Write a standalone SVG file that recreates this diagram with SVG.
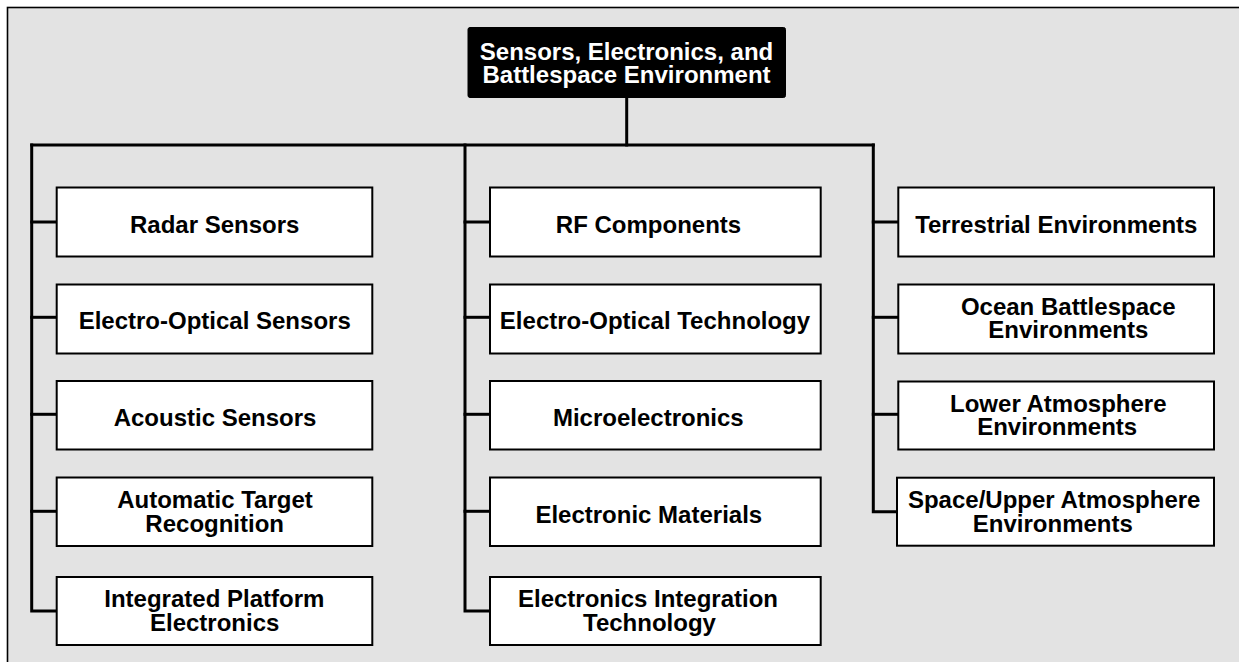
<svg xmlns="http://www.w3.org/2000/svg" width="1239" height="662" viewBox="0 0 1239 662">
<style>
.bg{fill:#e3e3e3;stroke:#000;stroke-width:1.6}
.box{fill:#fff;stroke:#000;stroke-width:2}
.title{fill:#000;stroke:#000;stroke-width:1}
.t{font-family:"Liberation Sans",Arial,Helvetica,sans-serif;font-weight:bold;font-size:24px;fill:#000;text-anchor:middle}
.tw{fill:#fff}
.ln{fill:none;stroke:#000;stroke-width:3;stroke-linejoin:miter;stroke-linecap:square}
</style>
<rect x="0" y="0" width="1239" height="662" fill="#fff"/>
<rect class="bg" x="7.5" y="7.5" width="1250" height="680"/>
<g id="connectors">
<line class="ln" x1="626.7" y1="98" x2="626.7" y2="145"/>
<line class="ln" x1="31.7" y1="145" x2="873.3" y2="145"/>
<polyline class="ln" points="31.7,145 31.7,611 56.7,611"/>
<line class="ln" x1="31.7" y1="222" x2="56.7" y2="222"/>
<line class="ln" x1="31.7" y1="317.3" x2="56.7" y2="317.3"/>
<line class="ln" x1="31.7" y1="414.3" x2="56.7" y2="414.3"/>
<line class="ln" x1="31.7" y1="511.3" x2="56.7" y2="511.3"/>
<polyline class="ln" points="465,145 465,611 490,611"/>
<line class="ln" x1="465" y1="222" x2="490" y2="222"/>
<line class="ln" x1="465" y1="317.3" x2="490" y2="317.3"/>
<line class="ln" x1="465" y1="414.3" x2="490" y2="414.3"/>
<line class="ln" x1="465" y1="511.3" x2="490" y2="511.3"/>
<polyline class="ln" points="873.3,145 873.3,511.7 898.3,511.7"/>
<line class="ln" x1="873.3" y1="222" x2="898.3" y2="222"/>
<line class="ln" x1="873.3" y1="317.3" x2="898.3" y2="317.3"/>
<line class="ln" x1="873.3" y1="414.3" x2="898.3" y2="414.3"/>
</g>
<g id="root">
<rect class="title" x="468" y="27.5" width="317.5" height="70" rx="2"/>
<text class="t tw" x="626.5" y="59.5">Sensors, Electronics, and</text>
<text class="t tw" x="626.5" y="82.5">Battlespace Environment</text>
</g>
<g id="radar"><rect class="box" x="56.7" y="187.5" width="315.6" height="69"/><text class="t" x="214.7" y="233.3">Radar Sensors</text></g>
<g id="eo-sensors"><rect class="box" x="56.7" y="284.5" width="315.6" height="69"/><text class="t" x="214.7" y="328.5">Electro-Optical Sensors</text></g>
<g id="acoustic"><rect class="box" x="56.7" y="381" width="315.6" height="68.5"/><text class="t" x="215" y="425.5">Acoustic Sensors</text></g>
<g id="atr"><rect class="box" x="56.7" y="477.5" width="315.6" height="68.5"/><text class="t" x="215" y="508.3">Automatic Target</text><text class="t" x="214.7" y="532.3">Recognition</text></g>
<g id="ipe"><rect class="box" x="56.7" y="577" width="315.6" height="68"/><text class="t" x="214.3" y="606.7">Integrated Platform</text><text class="t" x="214.7" y="630.7">Electronics</text></g>
<g id="rf"><rect class="box" x="490" y="187.5" width="330.7" height="69"/><text class="t" x="648.5" y="233.3">RF Components</text></g>
<g id="eo-tech"><rect class="box" x="490" y="284.5" width="330.7" height="69"/><text class="t" x="655" y="328.5">Electro-Optical Technology</text></g>
<g id="micro"><rect class="box" x="490" y="381" width="330.7" height="68.5"/><text class="t" x="648.3" y="425.5">Microelectronics</text></g>
<g id="materials"><rect class="box" x="490" y="477.5" width="330.7" height="68.5"/><text class="t" x="648.8" y="522.5">Electronic Materials</text></g>
<g id="eit"><rect class="box" x="490" y="577" width="330.7" height="68"/><text class="t" x="648" y="606.7">Electronics Integration</text><text class="t" x="649.5" y="630.7">Technology</text></g>
<g id="terrestrial"><rect class="box" x="898.3" y="187.5" width="315.7" height="69"/><text class="t" x="1056.3" y="233.3">Terrestrial Environments</text></g>
<g id="ocean"><rect class="box" x="898.3" y="284.5" width="315.7" height="69"/><text class="t" x="1068.3" y="315">Ocean Battlespace</text><text class="t" x="1068.3" y="337.7">Environments</text></g>
<g id="lower"><rect class="box" x="898.3" y="381.5" width="315.7" height="68"/><text class="t" x="1058.3" y="412.3">Lower Atmosphere</text><text class="t" x="1057.2" y="435">Environments</text></g>
<g id="space"><rect class="box" x="897" y="477.7" width="317" height="68"/><text class="t" x="1054.2" y="508.3">Space/Upper Atmosphere</text><text class="t" x="1052.8" y="532.3">Environments</text></g>
</svg>
